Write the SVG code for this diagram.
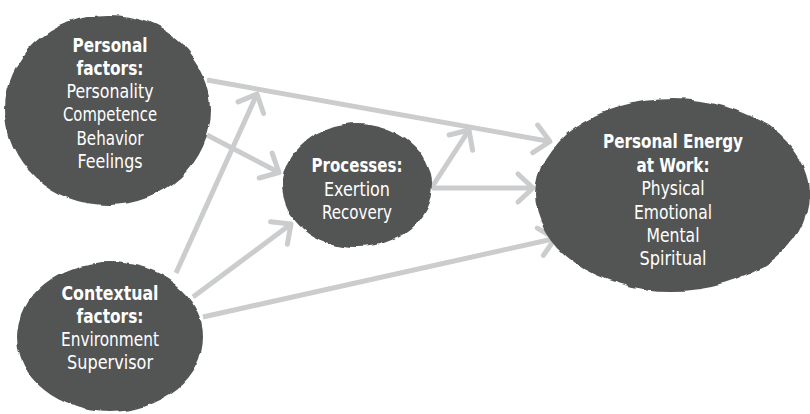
<svg xmlns="http://www.w3.org/2000/svg" width="810" height="414" viewBox="0 0 810 414">
<defs>
<style>
.blob{fill:#535554;filter:url(#rough)}
.t{font-family:"DejaVu Sans Condensed","DejaVu Sans",sans-serif;font-size:19.5px;fill:#ffffff;text-anchor:middle}
.b{font-weight:bold}
.c{fill:none;stroke:#cbcccd;stroke-width:5;marker-end:url(#chev)}
</style>
<filter id="rough" x="-10%" y="-10%" width="120%" height="120%">
<feTurbulence type="fractalNoise" baseFrequency="0.035" numOctaves="4" seed="7" result="n"/>
<feDisplacementMap in="SourceGraphic" in2="n" scale="7" xChannelSelector="R" yChannelSelector="G"/>
</filter>
<marker id="chev" markerUnits="userSpaceOnUse" markerWidth="40" markerHeight="40" viewBox="-25 -20 30 40" refX="0" refY="0" orient="auto">
<path d="M-15,-14 L0,0 L-15,14" fill="none" stroke="#cbcccd" stroke-width="5" stroke-linecap="round" stroke-linejoin="round"/>
</marker>
</defs>
<rect width="810" height="414" fill="#ffffff"/>
<g id="connectors">
<line class="c" x1="207" y1="80" x2="550" y2="141.5"/>
<line class="c" x1="207" y1="135" x2="279" y2="172.5"/>
<line class="c" x1="176" y1="273" x2="257" y2="94"/>
<line class="c" x1="193" y1="297" x2="291" y2="224"/>
<line class="c" x1="203" y1="317" x2="555" y2="238.5"/>
<line class="c" x1="432" y1="188" x2="533" y2="188"/>
<line class="c" x1="432" y1="187" x2="469" y2="130"/>
</g>
<g id="personal-factors">
<ellipse class="blob" cx="108" cy="110" rx="103" ry="95"/>
<text class="t b" x="110" y="52" textLength="75" lengthAdjust="spacingAndGlyphs">Personal</text>
<text class="t b" x="110" y="75" textLength="67" lengthAdjust="spacingAndGlyphs">factors:</text>
<text class="t" x="110" y="98" textLength="87" lengthAdjust="spacingAndGlyphs">Personality</text>
<text class="t" x="110" y="121" textLength="94" lengthAdjust="spacingAndGlyphs">Competence</text>
<text class="t" x="110" y="145" textLength="67" lengthAdjust="spacingAndGlyphs">Behavior</text>
<text class="t" x="110" y="168" textLength="65" lengthAdjust="spacingAndGlyphs">Feelings</text>
</g>
<g id="contextual-factors">
<ellipse class="blob" cx="110" cy="337" rx="93" ry="75"/>
<text class="t b" x="110" y="299.5" textLength="97" lengthAdjust="spacingAndGlyphs">Contextual</text>
<text class="t b" x="110" y="322.8" textLength="67" lengthAdjust="spacingAndGlyphs">factors:</text>
<text class="t" x="110" y="346.1" textLength="98" lengthAdjust="spacingAndGlyphs">Environment</text>
<text class="t" x="110" y="369.4" textLength="86" lengthAdjust="spacingAndGlyphs">Supervisor</text>
</g>
<g id="processes">
<ellipse class="blob" cx="357" cy="185" rx="75" ry="62"/>
<text class="t b" x="357" y="172" textLength="91" lengthAdjust="spacingAndGlyphs">Processes:</text>
<text class="t" x="357" y="195.5" textLength="66" lengthAdjust="spacingAndGlyphs">Exertion</text>
<text class="t" x="357" y="219" textLength="70" lengthAdjust="spacingAndGlyphs">Recovery</text>
</g>
<g id="personal-energy">
<ellipse class="blob" cx="672" cy="195" rx="137" ry="96"/>
<text class="t b" x="673" y="148.3" textLength="140" lengthAdjust="spacingAndGlyphs">Personal Energy</text>
<text class="t b" x="673" y="171.7" textLength="73" lengthAdjust="spacingAndGlyphs">at Work:</text>
<text class="t" x="673" y="195.1" textLength="63" lengthAdjust="spacingAndGlyphs">Physical</text>
<text class="t" x="673" y="218.5" textLength="78" lengthAdjust="spacingAndGlyphs">Emotional</text>
<text class="t" x="673" y="241.9" textLength="53" lengthAdjust="spacingAndGlyphs">Mental</text>
<text class="t" x="673" y="265.3" textLength="67" lengthAdjust="spacingAndGlyphs">Spiritual</text>
</g>
</svg>
